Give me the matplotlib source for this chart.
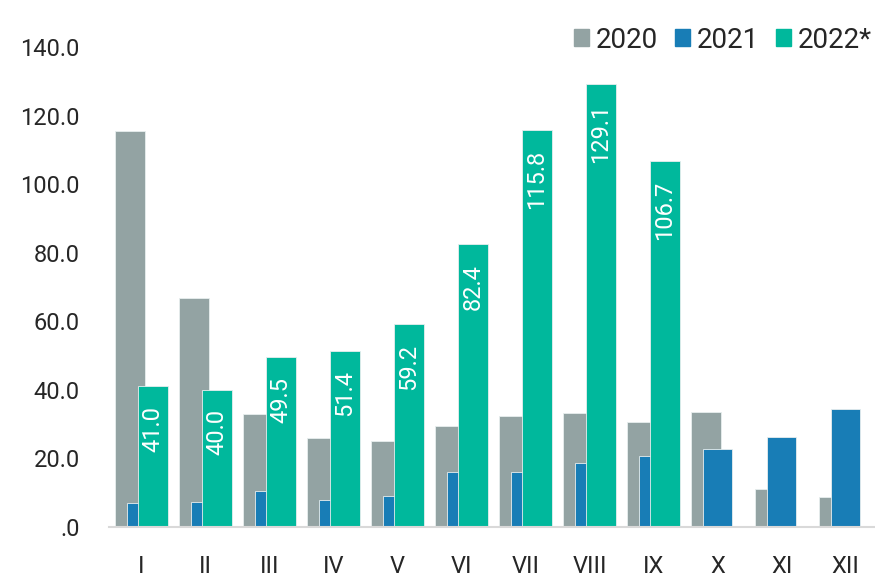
import matplotlib.pyplot as plt
import numpy as np
from matplotlib.patches import Patch

plt.rcParams['font.family'] = ['Roboto', 'DejaVu Sans']

months = ['I', 'II', 'III', 'IV', 'V', 'VI', 'VII', 'VIII', 'IX', 'X', 'XI', 'XII']
y2020 = [115.5, 66.8, 33.0, 25.9, 25.2, 29.6, 32.3, 33.2, 30.6, 33.5, 11.0, 8.7]
y2021 = [7.0, 7.3, 10.4, 7.9, 9.0, 16.0, 15.9, 18.8, 20.8, 22.7, 26.3, 34.4]
y2022 = [41.0, 40.0, 49.5, 51.4, 59.2, 82.4, 115.8, 129.1, 106.7]
series = ['2020', '2021', '2022*']
yticks = [0, 20, 40, 60, 80, 100, 120, 140]
ytick_labels = ['.0', '20.0', '40.0', '60.0', '80.0', '100.0', '120.0', '140.0']

c_gray = '#93a3a3'
c_blue = '#187db6'
c_green = '#00b89c'

fig = plt.figure(figsize=(8.75, 5.81), dpi=100)
ax = fig.add_axes([109/875, 1-527/581, 1-109/875, (527-47)/581])

x = np.arange(len(months))
w = 0.46
off = 0.18
ax.bar(x - off, y2020, w, color=c_gray, edgecolor='#e8eeee', lw=0.6)
ax.bar(x, y2021, w, color=c_blue, edgecolor='#e8eeee', lw=0.6)
ax.bar(x[:len(y2022)] + off, y2022, w, color=c_green, edgecolor='#e8eeee', lw=0.6)

# value labels inside the 2022 bars
for xi, v in zip(x[:len(y2022)] + off, y2022):
    ax.annotate(f'{v:.1f}', xy=(xi, v), xytext=(0, -14), textcoords='offset points',
                rotation=90, ha='center', va='top', color='white', fontsize=17)

ax.set_xlim(-0.505, 11.46)
ax.set_ylim(0, 140)
ax.set_xticks(x)
ax.set_xticklabels(months)
ax.set_yticks(yticks)
ax.set_yticklabels(ytick_labels)
ax.tick_params(axis='both', length=0, labelsize=17, colors='#262626')
ax.tick_params(axis='x', pad=20)
ax.tick_params(axis='y', pad=21)

for s in ['top', 'right', 'left']:
    ax.spines[s].set_visible(False)
ax.spines['bottom'].set_color('#d9d9d9')
ax.spines['bottom'].set_linewidth(1.5)

handles = [Patch(color=c) for c in [c_gray, c_blue, c_green]]
leg = fig.legend(handles, series, loc='center right', bbox_to_anchor=(1.0, 1-40/581),
                 ncol=3, frameon=False, fontsize=20, handlelength=0.55, handleheight=0.55,
                 handletextpad=0.25, columnspacing=0.6, borderaxespad=0, borderpad=0.1)
for t in leg.get_texts():
    t.set_color('#262626')

plt.savefig('out.png', dpi=100)
